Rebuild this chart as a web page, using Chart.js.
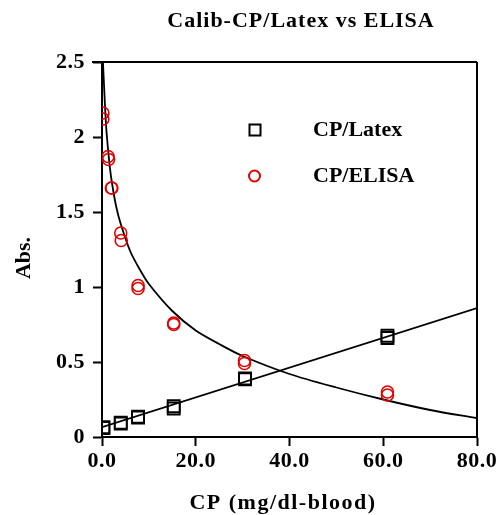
<!DOCTYPE html>
<html>
<head>
<meta charset="utf-8">
<script src="https://cdn.jsdelivr.net/npm/chart.js@4.4.0/dist/chart.umd.min.js"></script>
<style>
html,body{margin:0;padding:0;background:#fff;}
#wrap{width:501px;height:515px;}
</style>
</head>
<body>
<div id="wrap"><canvas id="c" width="501" height="515"></canvas></div>
<script>
// Data
const latexX = [0.3, 0.3, 4.0, 4.0, 7.7, 7.7, 15.3, 15.3, 30.5, 30.5, 60.9, 60.9];
const latexY = [0.06, 0.065, 0.09, 0.095, 0.13, 0.135, 0.19, 0.205, 0.385, 0.39, 0.66, 0.675];
const elisaX = [0.2, 0.2, 1.3, 1.4, 2.0, 2.1, 4.0, 4.1, 7.7, 7.7, 15.3, 15.3, 30.4, 30.4, 60.9, 60.9];
const elisaY = [2.16, 2.12, 1.87, 1.85, 1.66, 1.66, 1.36, 1.31, 1.01, 0.99, 0.76, 0.75, 0.51, 0.49, 0.30, 0.28];
const latexFitX = [0, 80];
const latexFitY = [0.065, 0.86];
const elisaFitX = [0.2, 0.35, 0.5, 0.75, 1, 1.5, 2, 3, 4, 6, 8, 10, 15, 20, 25, 30, 40, 50, 60, 70, 80];
const elisaFitY = [2.5, 2.4, 2.3, 2.14, 2.02, 1.85, 1.72, 1.54, 1.42, 1.24, 1.12, 1.02, 0.84, 0.71, 0.62, 0.54, 0.42, 0.33, 0.25, 0.18, 0.125];
const xTicks = [0, 20, 40, 60, 80];
const yTicks = [0, 0.5, 1, 1.5, 2, 2.5];
const titleText = 'Calib-CP/Latex vs ELISA';
const xTitle = 'CP (mg/dl-blood)';
const yTitle = 'Abs.';
const legendLabels = ['CP/Latex', 'CP/ELISA'];

const pts = (xs, ys) => xs.map((x, i) => ({x: x, y: ys[i]}));
const FONT = '"Liberation Serif", "Times New Roman", serif';

const decor = {
  id: 'decor',
  beforeDraw(chart) {
    chart.ctx.letterSpacing = '0.5px';
  },
  afterDraw(chart) {
    const ctx = chart.ctx;
    const a = chart.chartArea;
    ctx.save();
    ctx.strokeStyle = '#000';
    ctx.lineWidth = 2;
    ctx.beginPath();
    ctx.moveTo(a.left - 10, a.top);
    ctx.lineTo(a.right, a.top);
    ctx.moveTo(a.right, a.top);
    ctx.lineTo(a.right, a.bottom);
    ctx.stroke();
    ctx.fillStyle = '#000';
    ctx.font = 'bold 22px ' + FONT;
    // title
    ctx.letterSpacing = '1px';
    ctx.textAlign = 'center';
    ctx.textBaseline = 'alphabetic';
    ctx.fillText(titleText, 301, 27);
    // x title
    ctx.letterSpacing = '1.5px';
    ctx.fillText(xTitle, 283, 509);
    // y title
    ctx.letterSpacing = '0px';
    ctx.save();
    ctx.translate(30, 258);
    ctx.rotate(-Math.PI / 2);
    ctx.fillText(yTitle, 0, 0);
    ctx.restore();
    // legend
    ctx.textAlign = 'left';
    ctx.lineWidth = 2;
    ctx.strokeStyle = '#000';
    ctx.strokeRect(249.5, 124.5, 11, 11);
    ctx.fillText(legendLabels[0], 313, 136);
    ctx.strokeStyle = '#e00000';
    ctx.beginPath();
    ctx.arc(254.5, 176, 5.5, 0, Math.PI * 2);
    ctx.stroke();
    ctx.fillText(legendLabels[1], 313, 182);
    ctx.restore();
    ctx.letterSpacing = '0px';
  }
};

new Chart(document.getElementById('c'), {
  type: 'scatter',
  data: {
    datasets: [
      {label: 'fitL', data: pts(latexFitX, latexFitY), showLine: true, borderColor: '#000', borderWidth: 1.8, pointRadius: 0, fill: false, order: 3},
      {label: 'fitE', data: pts(elisaFitX, elisaFitY), showLine: true, borderColor: '#000', borderWidth: 1.8, pointRadius: 0, fill: false, tension: 0.3, order: 4},
      {label: legendLabels[0], data: pts(latexX, latexY), pointStyle: 'rect', pointRadius: 8.5, borderColor: '#000', borderWidth: 1.8, backgroundColor: 'rgba(0,0,0,0)', order: 2},
      {label: legendLabels[1], data: pts(elisaX, elisaY), pointStyle: 'circle', pointRadius: 6, borderColor: '#e00000', borderWidth: 1.6, backgroundColor: 'rgba(0,0,0,0)', order: 1}
    ]
  },
  options: {
    responsive: false,
    animation: false,
    events: [],
    layout: {padding: {top: 62, right: 24, left: 0, bottom: 0}},
    plugins: {legend: {display: false}, title: {display: false}, tooltip: {enabled: false}},
    scales: {
      x: {
        type: 'linear', min: 0, max: 80,
        afterFit(s) { s.height = 78; },
        afterBuildTicks(s) { s.ticks = xTicks.map(v => ({value: v})); },
        ticks: {callback: v => v.toFixed(1), color: '#000', font: {family: FONT, size: 22, weight: 'bold'}, padding: 2, maxRotation: 0},
        grid: {drawOnChartArea: false, drawTicks: true, tickLength: 9, tickColor: '#000', tickWidth: 2},
        border: {display: true, color: '#000', width: 2}
      },
      y: {
        type: 'linear', min: 0, max: 2.5,
        afterFit(s) { s.width = 102; },
        afterBuildTicks(s) { s.ticks = yTicks.map(v => ({value: v})); },
        ticks: {callback: v => String(v), color: '#000', font: {family: FONT, size: 22, weight: 'bold'}, padding: 8},
        grid: {drawOnChartArea: false, drawTicks: true, tickLength: 9, tickColor: '#000', tickWidth: 2},
        border: {display: true, color: '#000', width: 2}
      }
    }
  },
  plugins: [decor]
});
</script>
</body>
</html>
